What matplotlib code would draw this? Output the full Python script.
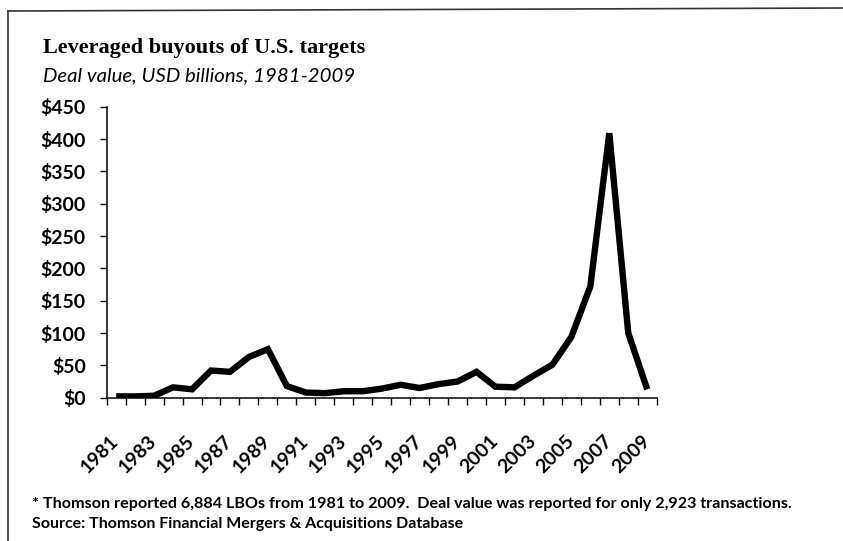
import matplotlib
matplotlib.use('Agg')
import matplotlib.pyplot as plt
import numpy as np

years = list(range(1981, 2010))
deal_value = [2, 2, 3, 16, 13, 42, 40, 63, 75, 18, 8, 7, 10, 10, 14, 20, 15, 21,
              25, 40, 17, 16, 34, 51, 94, 172, 409, 100, 13]
y_ticks = [0, 50, 100, 150, 200, 250, 300, 350, 400, 450]

W, H = 843, 541
fig = plt.figure(figsize=(W / 100, H / 100), dpi=100)
fig.patch.set_facecolor('white')


def px(x, y):
    return x / W, 1 - y / H


def fit_width(t, target):
    # shrink/grow a text so its width matches target pixels
    fig.canvas.draw()
    w = t.get_window_extent().width
    t.set_fontsize(t.get_fontsize() * target / w)


# axes placed in pixel terms
left, right, top, bottom = 106.7, 656.7, 106.7, 397.7
ax = fig.add_axes([left / W, 1 - bottom / H, (right - left) / W, (bottom - top) / H])

x = np.arange(len(years))
ax.plot(x, deal_value, color='black', lw=4.6, solid_joinstyle='miter', solid_capstyle='butt')

ax.set_xlim(-0.5, len(years) - 0.5)
ax.set_ylim(0, 450)
for s in ['top', 'right']:
    ax.spines[s].set_visible(False)
for s in ['left', 'bottom']:
    ax.spines[s].set_linewidth(1.1)

ax.set_yticks(y_ticks)
ax.set_yticklabels(['$%d' % v for v in y_ticks], fontfamily='Lato', fontweight='bold', fontsize=14)
ax.tick_params(axis='y', length=5, width=1, direction='out', pad=10)

# category boundaries as tick marks, year labels in between
ax.set_xticks(np.arange(-0.5, len(years), 1.0))
ax.set_xticklabels([])
ax.tick_params(axis='x', which='major', length=5, width=1, direction='out')
ax.set_xticks(x[::2], minor=True)
ax.set_xticklabels([str(y) for y in years[::2]], minor=True, rotation=45, ha='right',
                   rotation_mode='anchor', va='center', fontfamily='Lato', fontweight='bold',
                   fontsize=14)
ax.tick_params(axis='x', which='minor', length=0, pad=29)

# titles and notes
t1 = fig.text(*px(43, 53), 'Leveraged buyouts of U.S. targets', fontfamily='Liberation Serif',
              fontweight='bold', fontsize=18, va='baseline')
t2 = fig.text(*px(43, 81), 'Deal value, USD billions, 1981-2009', fontfamily='Lato',
              style='italic', fontsize=15, va='baseline')
t3 = fig.text(*px(32, 508), '* Thomson reported 6,884 LBOs from 1981 to 2009.  Deal value was '
              'reported for only 2,923 transactions.', fontfamily='Lato', fontweight='bold',
              fontsize=11, va='baseline')
t4 = fig.text(*px(32, 528), 'Source: Thomson Financial Mergers & Acquisitions Database',
              fontfamily='Lato', fontweight='bold', fontsize=11, va='baseline')
fit_width(t1, 322)
fit_width(t2, 312)
fit_width(t3, 758)
fit_width(t4, 433)

# scanned frame (cut off at right and bottom)
fig.add_artist(plt.Line2D([8 / W, 8 / W], [1 - 11 / H, 0], color='#333333', lw=1.2))
fig.add_artist(plt.Line2D([8 / W, 1], [1 - 11 / H, 1 - 8 / H], color='#333333', lw=1.2))

fig.savefig('out.png', dpi=100)
